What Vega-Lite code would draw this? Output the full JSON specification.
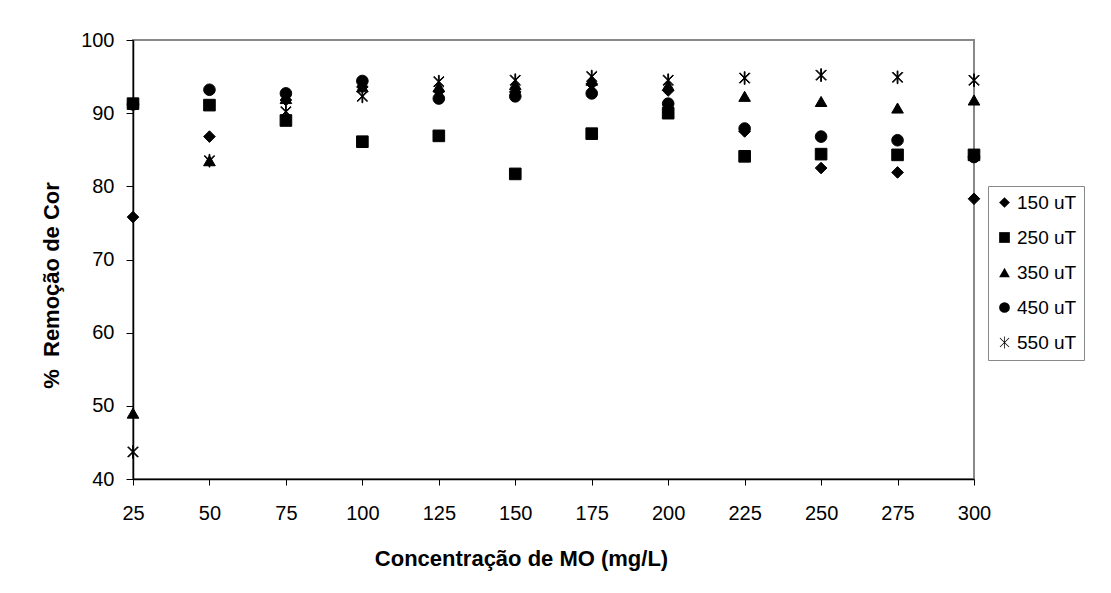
{
  "$schema": "https://vega.github.io/schema/vega-lite/v6.json",
  "width": 841,
  "height": 439,
  "autosize": "none",
  "padding": {"left": 133, "top": 40, "right": 137, "bottom": 114},
  "background": "white",
  "config": {
    "font": "Liberation Sans",
    "view": {"stroke": "#888888", "strokeWidth": 2},
    "axis": {"grid": false, "domainColor": "black", "domainWidth": 1.5, "tickColor": "black", "labelColor": "black", "titleColor": "black", "labelFont": "Liberation Sans", "titleFont": "Liberation Sans"}
  },
  "data": {
    "values": [
      {"x": 25, "serie": "150 uT", "y": 75.8},
      {"x": 50, "serie": "150 uT", "y": 86.8},
      {"x": 75, "serie": "150 uT", "y": 91.8},
      {"x": 100, "serie": "150 uT", "y": 93.6},
      {"x": 125, "serie": "150 uT", "y": 93.0},
      {"x": 150, "serie": "150 uT", "y": 92.9},
      {"x": 175, "serie": "150 uT", "y": 94.0},
      {"x": 200, "serie": "150 uT", "y": 93.1},
      {"x": 225, "serie": "150 uT", "y": 87.5},
      {"x": 250, "serie": "150 uT", "y": 82.5},
      {"x": 275, "serie": "150 uT", "y": 81.9},
      {"x": 300, "serie": "150 uT", "y": 78.3},
      {"x": 25, "serie": "250 uT", "y": 91.3},
      {"x": 50, "serie": "250 uT", "y": 91.1},
      {"x": 75, "serie": "250 uT", "y": 89.0},
      {"x": 100, "serie": "250 uT", "y": 86.1},
      {"x": 125, "serie": "250 uT", "y": 86.9},
      {"x": 150, "serie": "250 uT", "y": 81.7},
      {"x": 175, "serie": "250 uT", "y": 87.2},
      {"x": 200, "serie": "250 uT", "y": 90.0},
      {"x": 225, "serie": "250 uT", "y": 84.1},
      {"x": 250, "serie": "250 uT", "y": 84.4},
      {"x": 275, "serie": "250 uT", "y": 84.3},
      {"x": 300, "serie": "250 uT", "y": 84.3},
      {"x": 25, "serie": "350 uT", "y": 49.0},
      {"x": 50, "serie": "350 uT", "y": 83.5},
      {"x": 75, "serie": "350 uT", "y": 92.0},
      {"x": 100, "serie": "350 uT", "y": 93.6},
      {"x": 125, "serie": "350 uT", "y": 93.6},
      {"x": 150, "serie": "350 uT", "y": 93.9},
      {"x": 175, "serie": "350 uT", "y": 94.5},
      {"x": 200, "serie": "350 uT", "y": 93.8},
      {"x": 225, "serie": "350 uT", "y": 92.3},
      {"x": 250, "serie": "350 uT", "y": 91.6},
      {"x": 275, "serie": "350 uT", "y": 90.7},
      {"x": 300, "serie": "350 uT", "y": 91.8},
      {"x": 25, "serie": "450 uT", "y": 91.2},
      {"x": 50, "serie": "450 uT", "y": 93.2},
      {"x": 75, "serie": "450 uT", "y": 92.7},
      {"x": 100, "serie": "450 uT", "y": 94.4},
      {"x": 125, "serie": "450 uT", "y": 92.0},
      {"x": 150, "serie": "450 uT", "y": 92.3},
      {"x": 175, "serie": "450 uT", "y": 92.7},
      {"x": 200, "serie": "450 uT", "y": 91.3},
      {"x": 225, "serie": "450 uT", "y": 87.9},
      {"x": 250, "serie": "450 uT", "y": 86.8},
      {"x": 275, "serie": "450 uT", "y": 86.3},
      {"x": 300, "serie": "450 uT", "y": 84.0},
      {"x": 25, "serie": "550 uT", "y": 43.7},
      {"x": 50, "serie": "550 uT", "y": 83.5},
      {"x": 75, "serie": "550 uT", "y": 90.2},
      {"x": 100, "serie": "550 uT", "y": 92.3},
      {"x": 125, "serie": "550 uT", "y": 94.3},
      {"x": 150, "serie": "550 uT", "y": 94.5},
      {"x": 175, "serie": "550 uT", "y": 95.0},
      {"x": 200, "serie": "550 uT", "y": 94.5},
      {"x": 225, "serie": "550 uT", "y": 94.8},
      {"x": 250, "serie": "550 uT", "y": 95.2},
      {"x": 275, "serie": "550 uT", "y": 94.9},
      {"x": 300, "serie": "550 uT", "y": 94.5}
    ]
  },
  "mark": {"type": "point", "filled": true, "strokeWidth": 1, "opacity": 1, "size": 135},
  "encoding": {
    "x": {
      "field": "x", "type": "quantitative",
      "scale": {"domain": [25, 300], "nice": false, "zero": false},
      "axis": {"values": [25, 50, 75, 100, 125, 150, 175, 200, 225, 250, 275, 300], "title": "Concentração de MO (mg/L)", "labelFontSize": 20, "titleFontSize": 22, "titleFontWeight": "bold", "tickSize": 6, "labelPadding": 18, "titlePadding": 25, "titleX": 388, "labelFlush": false}
    },
    "y": {
      "field": "y", "type": "quantitative",
      "scale": {"domain": [40, 100], "nice": false, "zero": false},
      "axis": {"values": [40, 50, 60, 70, 80, 90, 100], "title": "% \u00a0Remoção de Cor", "labelFontSize": 20, "titleFontSize": 22, "titleFontWeight": "bold", "tickSize": 7, "labelPadding": 12, "titlePadding": 17, "titleY": 245, "labelFlush": false}
    },
    "fill": {"value": "black"},
    "stroke": {"value": "black"},
    "shape": {
      "field": "serie", "type": "nominal",
      "scale": {"domain": ["150 uT", "250 uT", "350 uT", "450 uT", "550 uT"], "range": ["diamond", "square", "triangle-up", "circle", "M-0.07,-1.1L0.07,-1.1L0.07,1.1L-0.07,1.1ZM-0.8,-0.9L0.9,0.8L0.8,0.9L-0.9,-0.8ZM-0.9,0.8L0.8,-0.9L0.9,-0.8L-0.8,0.9Z"]},
      "legend": {"title": null, "orient": "none", "legendX": 855, "legendY": 146, "strokeColor": "#888888", "padding": 7, "labelFontSize": 19, "labelColor": "black", "symbolSize": 115, "symbolFillColor": "black", "symbolStrokeColor": "black", "symbolStrokeWidth": 1, "rowPadding": 15, "labelOffset": 3, "labelFont": "Liberation Sans"}
    }
  }
}
